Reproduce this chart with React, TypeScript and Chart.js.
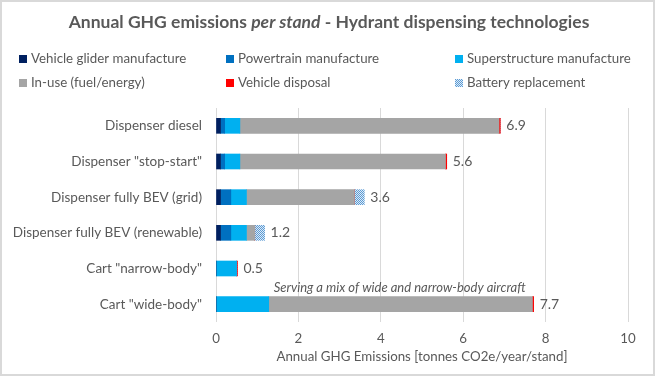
import React, { useEffect, useRef } from 'react';
import { Chart, registerables } from 'chart.js';
Chart.register(...registerables);

const categories = [
  'Dispenser diesel',
  'Dispenser "stop-start"',
  'Dispenser fully BEV (grid)',
  'Dispenser fully BEV (renewable)',
  'Cart "narrow-body"',
  'Cart "wide-body"',
];
const gliderManufacture = [0.11, 0.11, 0.11, 0.11, 0, 0];
const powertrainManufacture = [0.1, 0.1, 0.25, 0.25, 0, 0];
const superstructureManufacture = [0.37, 0.37, 0.38, 0.38, 0.5, 1.28];
const inUse = [6.29, 4.99, 2.62, 0.2, 0, 6.4];
const vehicleDisposal = [0.03, 0.03, 0, 0, 0.02, 0.03];
const batteryReplacement = [0, 0, 0.24, 0.24, 0, 0];
const xTicks = [0, 2, 4, 6, 8, 10];
const seriesNames = [
  'Vehicle glider manufacture',
  'Powertrain manufacture',
  'Superstructure manufacture',
  'In-use (fuel/energy)',
  'Vehicle disposal',
  'Battery replacement',
];
const titleParts = [
  { text: 'Annual GHG emissions ', italic: false },
  { text: 'per stand', italic: true },
  { text: ' - Hydrant dispensing technologies', italic: false },
];
const annotationText = 'Serving a mix of wide and narrow-body aircraft';
const xAxisTitle = 'Annual GHG Emissions [tonnes CO2e/year/stand]';

const FONT = 'Lato, "Open Sans", sans-serif';
const TEXT = '#595959';

function makePattern(): CanvasPattern | string {
  const c = document.createElement('canvas');
  c.width = 2;
  c.height = 2;
  const g = c.getContext('2d');
  if (!g) return '#9DC3E6';
  g.fillStyle = '#DEEBF7';
  g.fillRect(0, 0, 2, 2);
  g.fillStyle = '#5B9BD5';
  g.fillRect(0, 0, 1, 1);
  g.fillRect(1, 1, 1, 1);
  return g.createPattern(c, 'repeat') || '#9DC3E6';
}

const decorPlugin = {
  id: 'decor',
  beforeDraw(chart: any) {
    const ctx = chart.ctx;
    ctx.save();
    ctx.fillStyle = '#ffffff';
    ctx.fillRect(0, 0, chart.width, chart.height);
    ctx.strokeStyle = '#d9d9d9';
    ctx.lineWidth = 2;
    ctx.strokeRect(1, 1, chart.width - 2, chart.height - 2);
    ctx.restore();
  },
  afterDraw(chart: any) {
    const ctx = chart.ctx;
    ctx.save();
    // title
    ctx.fillStyle = TEXT;
    ctx.textBaseline = 'middle';
    ctx.textAlign = 'left';
    let total = 0;
    const fonts = titleParts.map((p) => `${p.italic ? 'italic ' : ''}bold 17.5px ${FONT}`);
    titleParts.forEach((p, i) => {
      ctx.font = fonts[i];
      total += ctx.measureText(p.text).width;
    });
    let tx = 329 - total / 2;
    titleParts.forEach((p, i) => {
      ctx.font = fonts[i];
      ctx.fillText(p.text, tx, 22);
      tx += ctx.measureText(p.text).width;
    });
    // legend
    const colX = [19, 226, 455];
    const rowY = [59, 83];
    ctx.font = `13.3px ${FONT}`;
    chart.data.datasets.forEach((ds: any, i: number) => {
      const x = colX[i % 3];
      const y = rowY[Math.floor(i / 3)];
      ctx.fillStyle = ds.backgroundColor;
      ctx.fillRect(x, y - 4, 8, 8);
      ctx.fillStyle = TEXT;
      ctx.fillText(ds.label, x + 12, y);
    });
    // value labels
    const xs = chart.scales.x;
    const ys = chart.scales.y;
    ctx.font = `14px ${FONT}`;
    ctx.fillStyle = TEXT;
    categories.forEach((_, i) => {
      let sum = 0;
      chart.data.datasets.forEach((ds: any) => (sum += ds.data[i]));
      ctx.fillText(sum.toFixed(1), xs.getPixelForValue(sum) + 6, ys.getPixelForValue(i));
    });
    // annotation
    ctx.font = `italic 13px ${FONT}`;
    ctx.fillText(annotationText, xs.getPixelForValue(1.4), ys.getPixelForValue(5) - 16);
    ctx.restore();
  },
};

export default function App() {
  const ref = useRef<HTMLCanvasElement>(null);
  useEffect(() => {
    document.body.style.margin = '0';
    const pattern = makePattern();
    const colors: any[] = ['#002060', '#0070C0', '#00B0F0', '#A5A5A5', '#FF0000', pattern];
    const series = [
      gliderManufacture,
      powertrainManufacture,
      superstructureManufacture,
      inUse,
      vehicleDisposal,
      batteryReplacement,
    ];
    const chart = new Chart(ref.current as HTMLCanvasElement, {
      type: 'bar',
      data: {
        labels: categories,
        datasets: series.map((d, i) => ({
          label: seriesNames[i],
          data: d,
          backgroundColor: colors[i],
          borderWidth: 0,
          barThickness: 15,
        })),
      },
      options: {
        indexAxis: 'y',
        animation: false,
        responsive: false,
        maintainAspectRatio: false,
        layout: { padding: { top: 108, right: 27, left: 0, bottom: 0 } },
        plugins: { legend: { display: false }, title: { display: false }, tooltip: { enabled: false } },
        scales: {
          x: {
            stacked: true,
            min: 0,
            max: 10,
            afterBuildTicks: (scale: any) => {
              scale.ticks = xTicks.map((v) => ({ value: v }));
            },
            afterFit: (scale: any) => {
              scale.height = 54;
            },
            grid: { color: '#d9d9d9', drawTicks: false },
            border: { display: false },
            ticks: { color: TEXT, font: { family: FONT, size: 13.3 }, padding: 9 },
            title: {
              display: true,
              text: xAxisTitle,
              color: TEXT,
              font: { family: FONT, size: 13.3 },
              padding: { top: 0, bottom: 11 },
            },
          },
          y: {
            stacked: true,
            afterFit: (scale: any) => {
              scale.width = 216;
            },
            grid: { display: false, drawTicks: false },
            border: { display: false },
            ticks: { color: TEXT, font: { family: FONT, size: 13.5 }, padding: 14 },
          },
        },
      },
      plugins: [decorPlugin],
    });
    return () => chart.destroy();
  }, []);
  return (
    <div style={{ width: 655, height: 376 }}>
      <canvas ref={ref} width={655} height={376} style={{ display: 'block' }} />
    </div>
  );
}
